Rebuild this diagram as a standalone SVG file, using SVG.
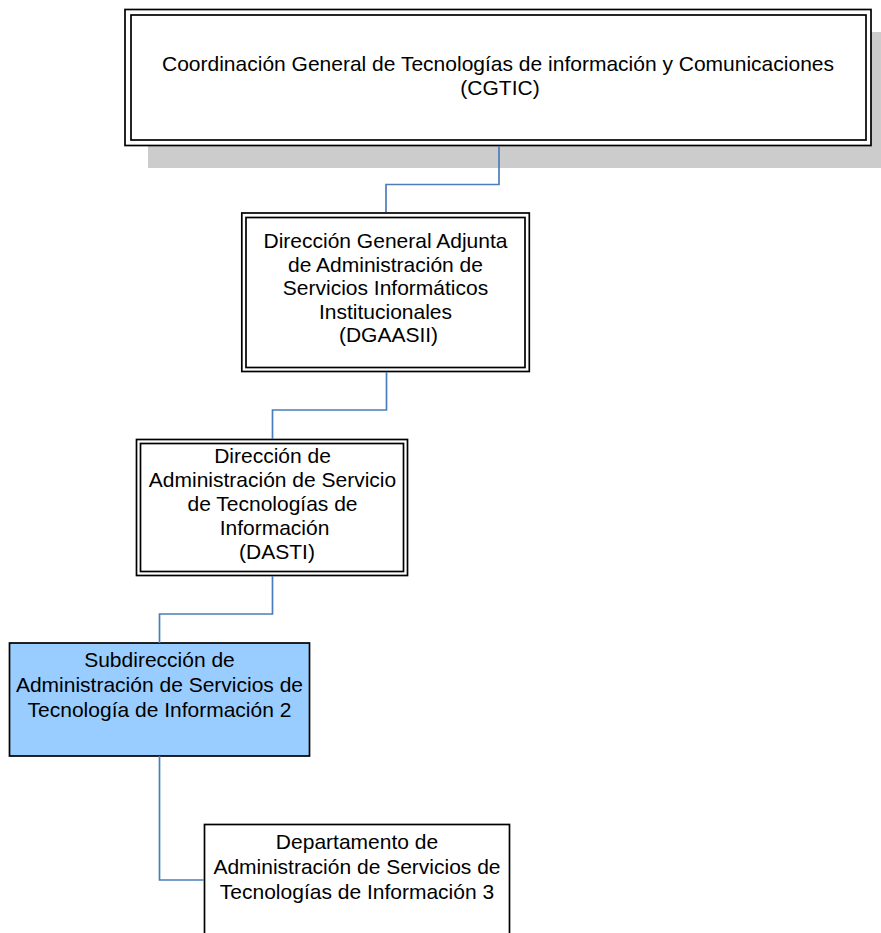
<svg xmlns="http://www.w3.org/2000/svg" width="881" height="933" viewBox="0 0 881 933">
  <style>
    .frame { fill: none; stroke: #000; stroke-width: 1.7; }
    .box { fill: #fff; stroke: #000; stroke-width: 1.7; }
    .label { font-family: "Liberation Sans", Arial, sans-serif; font-size: 21px; fill: #000; text-anchor: middle; }
    .link { fill: none; stroke: #4A7EBB; stroke-width: 1.7; }
  </style>
  <rect width="881" height="933" fill="#fff"/>

  <!-- Top-level office with drop shadow and double frame -->
  <g id="cgtic">
    <rect x="148" y="32" width="740" height="136" fill="#CCCCCC"/>
    <rect class="box" x="125" y="9.5" width="746" height="136"/>
    <rect class="frame" x="131" y="15" width="735" height="125"/>
    <text class="label" x="498" y="71">Coordinación General de Tecnologías de información y Comunicaciones</text>
    <text class="label" x="500" y="95">(CGTIC)</text>
  </g>

  <g id="dgaasii">
    <rect class="box" x="241.8" y="213" width="287.5" height="158.5"/>
    <rect class="frame" x="246" y="217.5" width="279" height="150"/>
    <text class="label" x="385.5" y="248">Dirección General Adjunta</text>
    <text class="label" x="385.5" y="271.5">de Administración de</text>
    <text class="label" x="385.5" y="295">Servicios Informáticos</text>
    <text class="label" x="385.5" y="318.5">Institucionales</text>
    <text class="label" x="388.5" y="342">(DGAASII)</text>
  </g>

  <g id="dasti">
    <rect class="box" x="136.5" y="439.5" width="271" height="136"/>
    <rect class="frame" x="140.5" y="443.5" width="263" height="128"/>
    <text class="label" x="272.5" y="463">Dirección de</text>
    <text class="label" x="272.5" y="487">Administración de Servicio</text>
    <text class="label" x="272.5" y="511">de Tecnologías de</text>
    <text class="label" x="274.5" y="535">Información</text>
    <text class="label" x="277" y="559">(DASTI)</text>
  </g>

  <g id="subdireccion">
    <rect x="9.5" y="643" width="300" height="113" fill="#99CCFF" stroke="#000" stroke-width="1.7"/>
    <text class="label" x="159.5" y="667">Subdirección de</text>
    <text class="label" x="159.5" y="692">Administración de Servicios de</text>
    <text class="label" x="159.5" y="717">Tecnología de Información 2</text>
  </g>

  <g id="departamento">
    <rect class="box" x="204.5" y="824.5" width="305" height="130"/>
    <text class="label" x="357" y="849">Departamento de</text>
    <text class="label" x="357" y="874">Administración de Servicios de</text>
    <text class="label" x="357" y="899">Tecnologías de Información 3</text>
  </g>

  <g id="connectors">
    <polyline class="link" points="499,146 499,184.5 386,184.5 386,212"/>
    <polyline class="link" points="386.5,372 386.5,410 272.5,410 272.5,439"/>
    <polyline class="link" points="272.5,576 272.5,614 159.5,614 159.5,643"/>
    <polyline class="link" points="159.5,756 159.5,880 204,880"/>
  </g>
</svg>
